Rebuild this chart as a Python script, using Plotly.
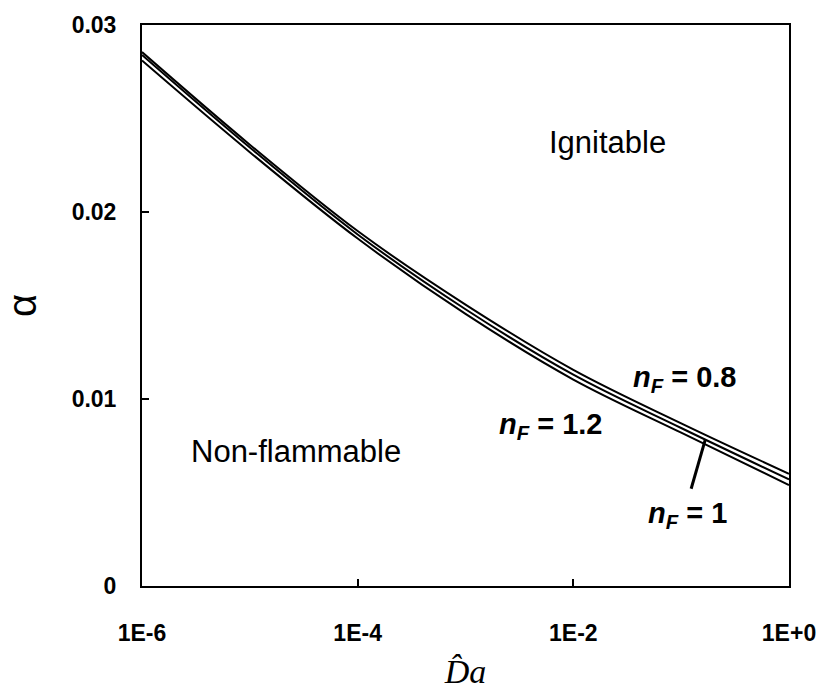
import plotly.graph_objects as go

# Damköhler number (log axis) and ignition-limit alpha for each reaction order
da_hat = [1e-6, 1e-5, 1e-4, 1e-3, 1e-2, 1e-1, 1e0]
alpha_nF_08 = [0.02855, 0.0236, 0.01898, 0.01505, 0.01156, 0.0087, 0.0060]
alpha_nF_10 = [0.0284, 0.02345, 0.0188, 0.0148, 0.0113, 0.00845, 0.0057]
alpha_nF_12 = [0.0281, 0.0232, 0.01858, 0.01455, 0.01104, 0.0082, 0.0054]

x_tickvals = [1e-6, 1e-4, 1e-2, 1e0]
x_ticktext = ["1E-6", "1E-4", "1E-2", "1E+0"]
y_tickvals = [0, 0.01, 0.02, 0.03]
y_ticktext = ["0", "0.01", "0.02", "0.03"]

series = [("n_F = 0.8", alpha_nF_08), ("n_F = 1", alpha_nF_10), ("n_F = 1.2", alpha_nF_12)]

fig = go.Figure()
for name, ys in series:
    fig.add_trace(go.Scatter(x=da_hat, y=ys, mode="lines", name=name,
                             line=dict(color="black", width=2, shape="spline", smoothing=1.0),
                             showlegend=False, hoverinfo="skip"))

W, H = 828, 696
PL, PR, PT, PB = 142, 790, 18, 595   # plot-area edges in window pixels
L, T, R, B = PL, PT, W - PR, H - PB
pw, ph = PR - PL, PB - PT

def px(xp):
    return (xp - PL) / pw

def py(yp):
    return (PB - yp) / ph

SANS = "Arial, Liberation Sans, sans-serif"
ann_font = dict(family=SANS, size=31, color="black")
nf_font = dict(family=SANS, size=29, color="black")

fig.update_layout(
    width=W, height=H,
    margin=dict(l=L, r=R, t=T, b=B, pad=0),
    paper_bgcolor="white", plot_bgcolor="white",
    xaxis=dict(type="log", range=[-6, 0], tickvals=x_tickvals, ticktext=x_ticktext,
               ticks="inside", ticklen=7, tickwidth=2, tickcolor="black",
               showline=True, linewidth=2, linecolor="black", mirror=True,
               showgrid=False, zeroline=False, ticklabeloverflow="allow",
               tickfont=dict(family=SANS, size=23, color="black", weight="bold"),
               ticklabelstandoff=25,
               title=dict(text="<i>D̂a</i>", font=dict(family="Liberation Serif, Times New Roman, serif", size=34, color="black"),
                          standoff=15)),
    yaxis=dict(range=[0, 0.03], tickvals=y_tickvals, ticktext=y_ticktext,
               ticks="inside", ticklen=7, tickwidth=2, tickcolor="black",
               showline=True, linewidth=2, linecolor="black", mirror=True,
               showgrid=False, zeroline=False, ticklabeloverflow="allow",
               tickfont=dict(family=SANS, size=23, color="black", weight="bold"),
               ticklabelstandoff=19,
               title=dict(text="α", font=dict(family=SANS, size=40, color="black"),
                          standoff=28)),
)

annotations = [
    dict(text="Ignitable", x=px(608), y=py(139), font=ann_font),
    dict(text="Non-flammable", x=px(296), y=py(457), font=ann_font),
    dict(text="<b><i>n</i><sub><i>F</i></sub> = 0.8</b>", x=px(685), y=py(382), font=nf_font),
    dict(text="<b><i>n</i><sub><i>F</i></sub> = 1.2</b>", x=px(551), y=py(430), font=nf_font),
    dict(text="<b><i>n</i><sub><i>F</i></sub> = 1</b>", x=px(688), y=py(522), font=nf_font),
]
for a in annotations:
    fig.add_annotation(xref="paper", yref="paper", showarrow=False,
                       xanchor="center", yanchor="middle", **a)

fig.add_shape(type="line", xref="paper", yref="paper",
              x0=px(692), y0=py(495), x1=px(706), y1=py(445),
              line=dict(color="black", width=3))

fig.write_html("out.html", config={"displayModeBar": False},
               post_script="document.body.style.margin='0px';")
